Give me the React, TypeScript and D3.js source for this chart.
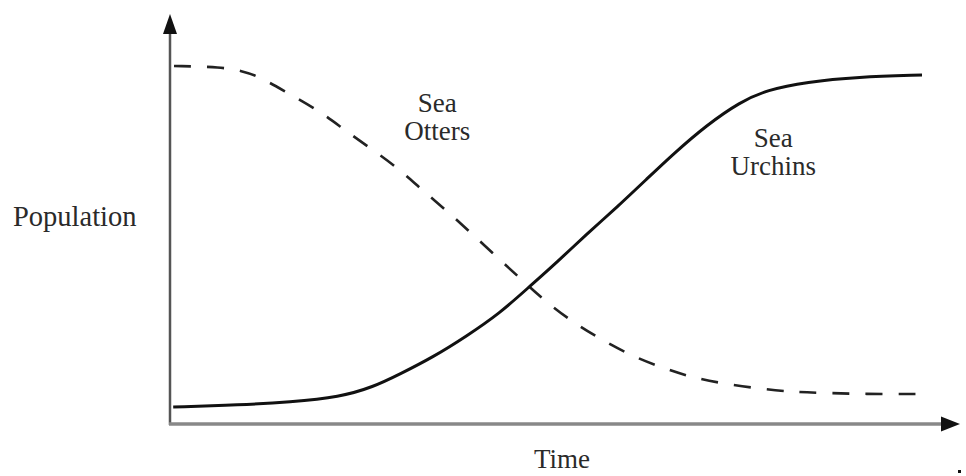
import React, { useEffect, useRef } from 'react';
import * as d3 from 'd3';

// time (0-100) and population (0-100)
const otterTime = [0.5, 6.5, 9, 11, 14.5, 18.5, 21.5, 25, 28.5, 31.5, 34.5, 37.5, 41, 44, 47, 50.5, 54, 58, 62, 65.5, 69.5, 74, 78, 82, 86.5, 94.5];
const otterPop = [89.5, 89.25, 88.25, 87, 83, 78.5, 74, 69, 64, 58.5, 53.5, 48, 41.5, 36, 30.5, 25.25, 21, 16.75, 13.75, 11.5, 10, 8.75, 8, 7.75, 7.5, 7.5];

const urchinTime = [0.4, 8.75, 15, 21.25, 25.4, 28.75, 32.9, 37.1, 41.25, 44.6, 48.4, 52.1, 55.9, 59.6, 62.9, 67.1, 71.25, 74.6, 79.6, 85.9, 94];
const urchinPop = [4.25, 4.75, 5.5, 6.75, 9.25, 12.5, 16.75, 22, 27.75, 33.75, 40.5, 47.5, 54.25, 61.25, 67.5, 74.75, 80.5, 83.5, 85.5, 86.75, 87.25];

const labels = [
  { lines: ['Sea', 'Otters'], t: 33.4, v: 78 },
  { lines: ['Sea', 'Urchins'], t: 75.4, v: 69.25 },
];

const W = 966;
const H = 476;
const FONT = '"Liberation Serif", "Times New Roman", serif';

const App: React.FC = () => {
  const svgRef = useRef<SVGSVGElement>(null);

  useEffect(() => {
    if (!svgRef.current) return;
    const svg = d3.select(svgRef.current);
    svg.selectAll('*').remove();

    const x = d3.scaleLinear().domain([0, 100]).range([170, 970]);
    const y = d3.scaleLinear().domain([0, 100]).range([424, 24]);

    svg.append('rect').attr('width', W).attr('height', H).attr('fill', '#fff');

    // axes
    const x0 = x(0), y0 = y(0);
    const yTip = y(102.5);
    const xTip = x(98.75);

    svg.append('line')
      .attr('x1', x0).attr('y1', y0 + 1).attr('x2', x0).attr('y2', yTip + 12)
      .attr('stroke', '#555').attr('stroke-width', 2.5);
    svg.append('path')
      .attr('d', `M${x0},${yTip} L${x0 - 7},${yTip + 20} L${x0 + 7},${yTip + 20} Z`)
      .attr('fill', '#111');

    svg.append('line')
      .attr('x1', x0 - 1).attr('y1', y0).attr('x2', xTip - 12).attr('y2', y0)
      .attr('stroke', '#888').attr('stroke-width', 3.5);
    svg.append('path')
      .attr('d', `M${xTip},${y0} L${xTip - 19},${y0 - 7.5} L${xTip - 19},${y0 + 7.5} Z`)
      .attr('fill', '#111');

    const line = d3.line<[number, number]>()
      .x(d => x(d[0]))
      .y(d => y(d[1]))
      .curve(d3.curveBasis);

    svg.append('path')
      .datum(otterTime.map((t, i) => [t, otterPop[i]] as [number, number]))
      .attr('d', line)
      .attr('fill', 'none')
      .attr('stroke', '#222')
      .attr('stroke-width', 2.6)
      .attr('stroke-dasharray', '17 16');

    svg.append('path')
      .datum(urchinTime.map((t, i) => [t, urchinPop[i]] as [number, number]))
      .attr('d', line)
      .attr('fill', 'none')
      .attr('stroke', '#111')
      .attr('stroke-width', 3);

    // curve labels
    labels.forEach(l => {
      const txt = svg.append('text')
        .attr('x', x(l.t))
        .attr('y', y(l.v))
        .attr('text-anchor', 'middle')
        .attr('font-family', FONT)
        .attr('font-size', 27)
        .attr('fill', '#2a2a2a');
      l.lines.forEach((s, i) => {
        txt.append('tspan').attr('x', x(l.t)).attr('dy', i === 0 ? 0 : 28).text(s);
      });
    });

    svg.append('text')
      .attr('x', 13).attr('y', 226)
      .attr('font-family', FONT).attr('font-size', 28.5).attr('fill', '#2a2a2a')
      .text('Population');

    svg.append('text')
      .attr('x', x(49)).attr('y', 468)
      .attr('text-anchor', 'middle')
      .attr('font-family', FONT).attr('font-size', 27).attr('fill', '#2a2a2a')
      .text('Time');

    svg.append('rect').attr('x', 958).attr('y', 470).attr('width', 3).attr('height', 3).attr('fill', '#111');
  }, []);

  return (
    <div style={{ position: 'fixed', left: 0, top: 0, width: W, height: H, background: '#fff' }}>
      <svg ref={svgRef} width={W} height={H} style={{ display: 'block' }} />
    </div>
  );
};

export default App;
